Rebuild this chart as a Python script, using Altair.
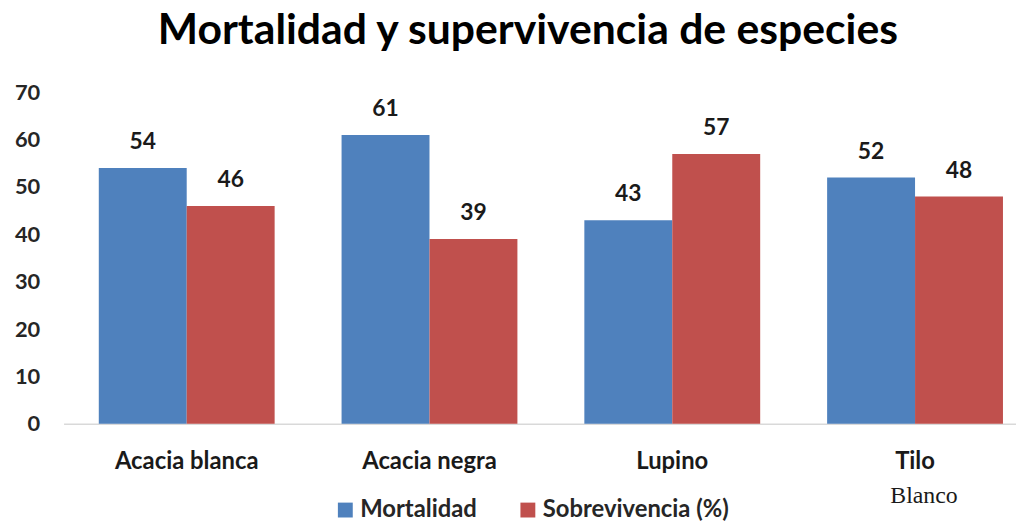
import altair as alt
import pandas as pd

categories = ["Acacia blanca", "Acacia negra", "Lupino", "Tilo Blanco"]
series = ["Mortalidad", "Sobrevivencia (%)"]
mortalidad = [54, 61, 43, 52]
sobrevivencia = [46, 39, 57, 48]
y_ticks = [0, 10, 20, 30, 40, 50, 60, 70]
colors = ["#4F81BD", "#C0504D"]

rows = []
for c, m, s in zip(categories, mortalidad, sobrevivencia):
    rows.append({"especie": c, "serie": series[0], "valor": m})
    rows.append({"especie": c, "serie": series[1], "valor": s})
df = pd.DataFrame(rows)

FONT = "Lato"

x_enc = alt.X(
    "especie:N",
    sort=categories,
    scale=alt.Scale(paddingInner=0.2757, paddingOuter=0.0994, align=0.73),
    axis=alt.Axis(
        title=None,
        labelAngle=0,
        ticks=False,
        domainColor="#D9D9D9",
        domainWidth=1.5,
        labelPadding=26,
        labelFont=FONT,
        labelFontSize=24,
        labelFontWeight="bold",
        labelColor="#1a1a1a",
        labelExpr="datum.value == 'Tilo Blanco' ? 'Tilo' : datum.value",
    ),
)
y_enc = alt.Y(
    "valor:Q",
    scale=alt.Scale(domain=[0, 70], nice=False),
    axis=alt.Axis(
        title=None,
        values=y_ticks,
        grid=False,
        ticks=False,
        domain=False,
        labelPadding=24,
        labelFont=FONT,
        labelFontSize=22,
        labelFontWeight="bold",
        labelColor="#262626",
    ),
)

base = alt.Chart(df).encode(
    x=x_enc,
    xOffset=alt.XOffset("serie:N", sort=series),
    y=y_enc,
)

bars = base.mark_bar().encode(
    color=alt.Color(
        "serie:N",
        sort=series,
        scale=alt.Scale(domain=series, range=colors),
        legend=alt.Legend(
            title=None,
            orient="none",
            legendX=272,
            legendY=409,
            direction="horizontal",
            symbolType="square",
            symbolSize=225,
            symbolStrokeWidth=0,
            labelFont=FONT,
            labelFontSize=24,
            labelFontWeight="bold",
            labelColor="#262626",
            labelOffset=3,
            labelLimit=400,
            columnPadding=39,
            padding=0,
        ),
    )
)

labels = base.mark_text(
    font=FONT, fontSize=23, fontWeight="bold", color="#1a1a1a", baseline="middle", dy=-26
).encode(text=alt.Text("valor:Q"))

extra = pd.DataFrame({"especie": ["Tilo Blanco"], "texto": ["Blanco"]})
blanco = alt.Chart(extra).mark_text(
    font="Liberation Serif", fontSize=24, color="#1a1a1a", baseline="middle", dx=9
).encode(
    x=alt.X("especie:N", sort=categories),
    y=alt.value(407),
    text="texto:N",
)

chart = (
    alt.layer(bars, labels, blanco)
    .properties(
        width=960,
        height=334,
        autosize=alt.AutoSizeParams(type="none"),
        padding={"left": 56, "top": 83, "right": 0, "bottom": 96},
        title=alt.TitleParams(
            "Mortalidad y supervivencia de especies",
            font=FONT,
            fontSize=43,
            fontWeight="bold",
            color="#000000",
            anchor="middle",
            dx=-12,
            offset=29,
        ),
    )
    .configure_view(stroke=None)
)

chart.save("out.html", embed_options={"renderer": "svg", "actions": False})
